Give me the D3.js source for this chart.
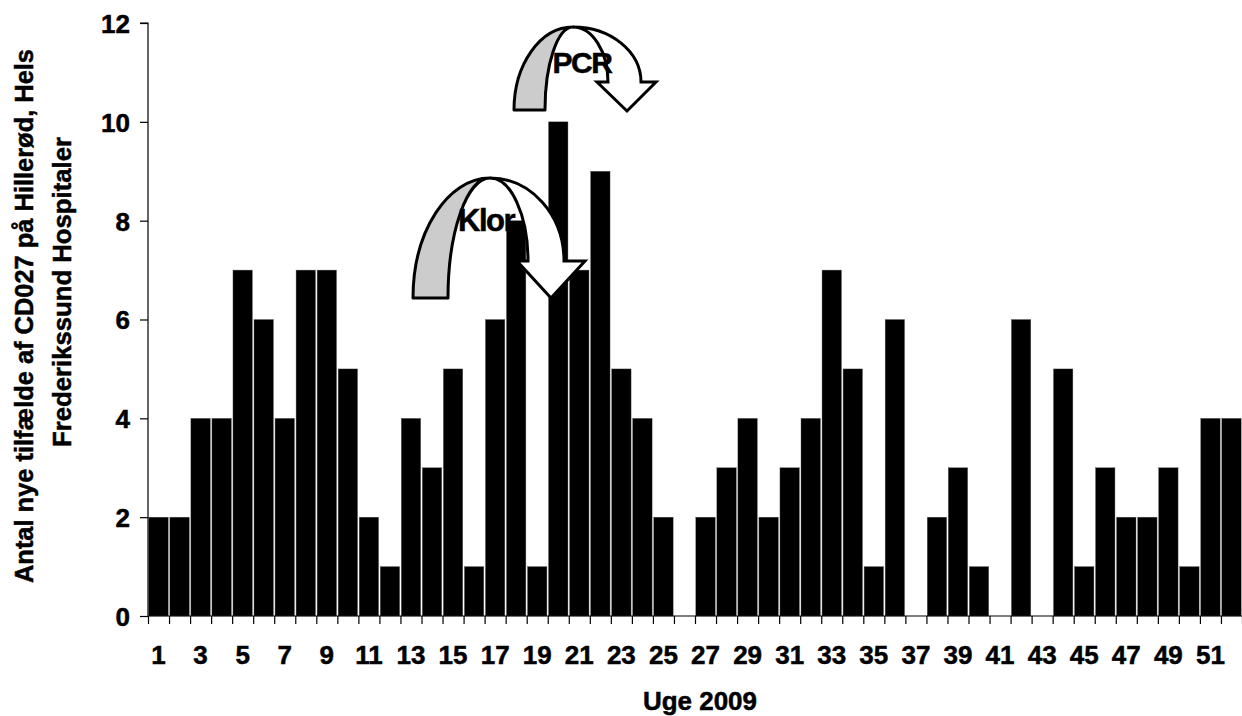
<!DOCTYPE html>
<html>
<head>
<meta charset="utf-8">
<script src="https://cdn.jsdelivr.net/npm/d3@7"></script>
<style>
  html, body { margin: 0; padding: 0; background: #fff; }
  svg text { font-family: "Liberation Sans", Arial, sans-serif; font-weight: bold; fill: #000; stroke: #000; stroke-width: 0.5px; }
</style>
</head>
<body>
<svg id="chart" width="1242" height="716"></svg>
<script>
// Weekly counts of new CD027 cases, 2009
const weeks = d3.range(1, 53);
const cases = [2, 2, 4, 4, 7, 6, 4, 7, 7, 5, 2, 1, 4, 3, 5, 1, 6, 8, 1, 10,
               7, 9, 5, 4, 2, 0, 2, 3, 4, 2, 3, 4, 7, 5, 1, 6, 0, 2, 3, 1,
               0, 6, 0, 5, 1, 3, 2, 2, 3, 1, 4, 4];
const yTicks = [0, 2, 4, 6, 8, 10, 12];
const xTickLabels = weeks.filter(w => w % 2 === 1);
const yTitleLines = ["Antal nye tilfælde af CD027 på Hillerød, Hels", "Frederikssund Hospitaler"];
const xTitle = "Uge 2009";

const svg = d3.select("#chart");
const plotLeft = 148, plotRight = 1242, plotTop = 23, plotBottom = 616;

const x = d3.scaleBand().domain(weeks).range([plotLeft, plotRight]).padding(0);
const y = d3.scaleLinear().domain([0, 12]).range([plotBottom, plotTop]);
const step = x.step();

// bars
svg.append("g").selectAll("rect")
  .data(weeks.map((w, i) => ({ week: w, value: cases[i] })))
  .join("rect")
  .attr("x", d => x(d.week) + 0.8)
  .attr("width", step - 1.6)
  .attr("y", d => y(d.value))
  .attr("height", d => y(0) - y(d.value))
  .attr("fill", "#000")
  .attr("stroke", "#666")
  .attr("stroke-width", 0.4);

// y axis
const yAxis = svg.append("g")
  .attr("transform", `translate(${plotLeft},0)`)
  .call(d3.axisLeft(y).tickValues(yTicks).tickSize(8).tickPadding(10).tickFormat(d3.format("d")));
yAxis.select(".domain").attr("stroke", "#000").attr("stroke-width", 1.2).attr("d", `M-8,${plotTop}H0V${plotBottom}`);
yAxis.selectAll(".tick line").attr("stroke", "#000").attr("stroke-width", 1.2);
yAxis.selectAll(".tick text").style("font-size", "26px").attr("dy", "0.36em");

// x axis: tick marks on week boundaries
const xb = d3.scaleLinear().domain([0, weeks.length]).range([plotLeft, plotRight]);
const xAxisTicks = svg.append("g")
  .attr("transform", `translate(0,${plotBottom})`)
  .call(d3.axisBottom(xb).tickValues(d3.range(0, weeks.length + 1)).tickSize(8).tickFormat(""));
xAxisTicks.select(".domain").attr("stroke", "#000").attr("stroke-width", 1.2).attr("d", `M${plotLeft},0H${plotRight}`);
xAxisTicks.selectAll(".tick line").attr("stroke", "#000").attr("stroke-width", 1.2);

// x axis labels on odd weeks
const xAxisLabels = svg.append("g")
  .attr("transform", `translate(0,${plotBottom})`)
  .call(d3.axisBottom(x).tickValues(xTickLabels).tickSize(0).tickPadding(30));
xAxisLabels.select(".domain").remove();
xAxisLabels.selectAll(".tick text").style("font-size", "26px");

// axis titles
svg.append("text")
  .attr("x", (plotLeft + plotRight) / 2 + 5).attr("y", 710)
  .attr("text-anchor", "middle")
  .style("font-size", "25px")
  .attr("textLength", 114).attr("lengthAdjust", "spacingAndGlyphs")
  .text(xTitle);

svg.append("text")
  .attr("transform", "translate(33,316) rotate(-90)")
  .attr("text-anchor", "middle")
  .style("font-size", "26px")
  .attr("textLength", 534).attr("lengthAdjust", "spacingAndGlyphs")
  .text(yTitleLines[0]);
svg.append("text")
  .attr("transform", "translate(71,292) rotate(-90)")
  .attr("text-anchor", "middle")
  .style("font-size", "26px")
  .attr("textLength", 310).attr("lengthAdjust", "spacingAndGlyphs")
  .text(yTitleLines[1]);

// curved "down" arrows: shaded back band rising to the crest, white front band falling into a head
const K = 0.5523;
function backBand(a) {
  const rxo = a.crestX - a.baseOuterX, rxi = a.crestX - a.baseInnerX, ry = a.baseY - a.crestY;
  const p = d3.path();
  p.moveTo(a.baseOuterX, a.baseY);
  p.bezierCurveTo(a.baseOuterX, a.baseY - K * ry, a.crestX - K * rxo, a.crestY, a.crestX, a.crestY);
  p.bezierCurveTo(a.crestX - K * rxi, a.crestY, a.baseInnerX, a.baseY - K * ry, a.baseInnerX, a.baseY);
  p.closePath();
  return p.toString();
}
function frontBand(a) {
  const rxo = a.shaftOuterX - a.crestX, rxi = a.shaftInnerX - a.crestX, ry = a.headY - a.crestY;
  const p = d3.path();
  p.moveTo(a.crestX, a.crestY);
  p.bezierCurveTo(a.crestX + K * rxo, a.crestY, a.shaftOuterX, a.headY - K * ry, a.shaftOuterX, a.headY);
  p.lineTo(a.barbR, a.headY);
  p.lineTo(a.tipX, a.tipY);
  p.lineTo(a.barbL, a.headY);
  p.lineTo(a.shaftInnerX, a.headY);
  p.bezierCurveTo(a.shaftInnerX, a.headY - K * ry, a.crestX + K * rxi, a.crestY, a.crestX, a.crestY);
  p.closePath();
  return p.toString();
}

const arrows = [
  { label: "Klor", size: 31, lx: 486, ly: 231,
    baseY: 298, baseOuterX: 413, baseInnerX: 448, crestX: 490, crestY: 178,
    headY: 261, shaftInnerX: 528, shaftOuterX: 564, barbL: 517, barbR: 585, tipX: 551, tipY: 298 },
  { label: "PCR", size: 30, lx: 582, ly: 73,
    baseY: 110, baseOuterX: 514, baseInnerX: 545, crestX: 573, crestY: 27,
    headY: 82, shaftInnerX: 608, shaftOuterX: 641, barbL: 597, barbR: 656, tipX: 627, tipY: 111 }
];

const ag = svg.append("g");
arrows.forEach(a => {
  ag.append("path").attr("d", backBand(a))
    .attr("fill", "#cccccc").attr("stroke", "#000").attr("stroke-width", 3).attr("stroke-linejoin", "round");
  ag.append("path").attr("d", frontBand(a))
    .attr("fill", "#fff").attr("stroke", "#000").attr("stroke-width", 3).attr("stroke-linejoin", "miter");
  ag.append("text").attr("x", a.lx).attr("y", a.ly)
    .attr("text-anchor", "middle").style("font-size", a.size + "px").style("letter-spacing", "-1.5px")
    .text(a.label);
});
</script>
</body>
</html>
